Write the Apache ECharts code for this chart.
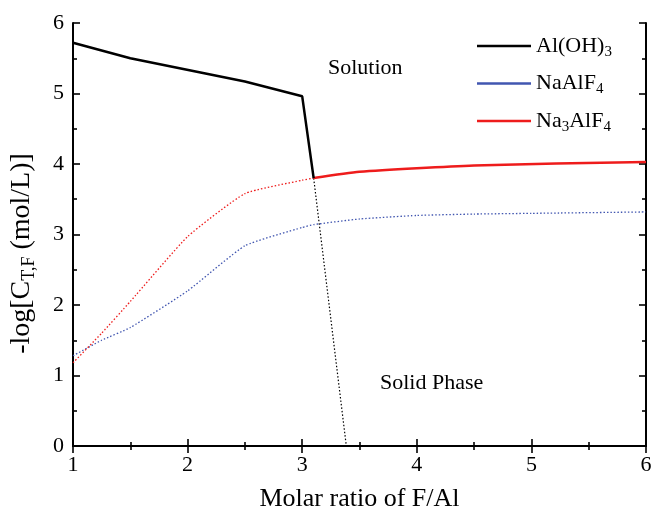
<!DOCTYPE html>
<html>
<head>
<meta charset="utf-8">
<script src="https://cdn.jsdelivr.net/npm/echarts@6/dist/echarts.min.js"></script>
<style>
  html, body { margin: 0; padding: 0; background: #fff; }
  #chart { width: 665px; height: 518px; }
</style>
</head>
<body>
<div id="chart"></div>
<script>
// Al(OH)3 boundary (solid) and its dotted continuation into the solid phase
var alohX = [1, 1.5, 2.5, 3, 3.1];
var alohY = [5.72, 5.5, 5.17, 4.96, 3.8];
var alohDotX = [3.1, 3.385];
var alohDotY = [3.8, 0];

// NaAlF4 (dotted only)
var naalX = [1, 1.25, 1.5, 2, 2.5, 3, 3.1, 3.5, 4, 4.5, 5, 6];
var naalY = [1.28, 1.5, 1.68, 2.2, 2.84, 3.1, 3.14, 3.22, 3.27, 3.29, 3.3, 3.32];

// Na3AlF4 dotted part and solid part
var na3DotX = [1, 1.25, 1.5, 2, 2.5, 3, 3.1];
var na3DotY = [1.18, 1.6, 2.05, 2.97, 3.58, 3.77, 3.8];
var na3X = [3.1, 3.5, 4.5, 6];
var na3Y = [3.8, 3.89, 3.98, 4.03];

var seriesNames = ['Al(OH)3', 'NaAlF4', 'Na3AlF4'];
var legendLabels = {
  'Al(OH)3': '{n|Al(OH)}{s|3}',
  'NaAlF4': '{n|NaAlF}{s|4}',
  'Na3AlF4': '{n|Na}{s|3}{n|AlF}{s|4}'
};

function pairs(xs, ys) {
  return xs.map(function (x, i) { return [x, ys[i]]; });
}

var FONT = '"Liberation Serif", "DejaVu Serif", serif';
var BLACK = '#000';
var BLUE = '#4156b0';
var RED = '#ee1c1c';

var chart = echarts.init(document.getElementById('chart'));

var tickInside = { show: true, inside: true, length: 7, lineStyle: { color: BLACK, width: 1.6 } };
var minorInside = { show: true, splitNumber: 2, length: 4, lineStyle: { color: BLACK, width: 1.6 } };

var option = {
  backgroundColor: '#fff',
  animation: false,
  grid: { left: 72, right: 19, top: 23, bottom: 72 },
  legend: {
    data: seriesNames,
    orient: 'vertical',
    left: 472,
    top: 30,
    icon: 'rect',
    itemWidth: 54,
    itemHeight: 2.5,
    itemGap: 13,
    formatter: function (n) { return legendLabels[n]; },
    textStyle: {
      fontFamily: FONT,
      color: BLACK,
      rich: {
        n: { fontFamily: FONT, fontSize: 22, color: BLACK, lineHeight: 24 },
        s: { fontFamily: FONT, fontSize: 15, color: BLACK, padding: [12, 0, 0, 0] }
      }
    }
  },
  xAxis: [{
    type: 'value',
    min: 1, max: 6, interval: 1,
    name: 'Molar ratio of F/Al',
    nameLocation: 'middle',
    nameGap: 40,
    nameTextStyle: { fontFamily: FONT, fontSize: 26, color: BLACK },
    axisLine: { lineStyle: { color: BLACK, width: 2 } },
    axisTick: tickInside,
    minorTick: minorInside,
    splitLine: { show: false },
    axisLabel: { fontFamily: FONT, fontSize: 22, color: BLACK, margin: 8 }
  }, {
    type: 'value',
    position: 'top',
    min: 1, max: 6, interval: 1,
    axisLine: { lineStyle: { color: BLACK, width: 2 } },
    axisTick: tickInside,
    minorTick: minorInside,
    splitLine: { show: false },
    axisLabel: { show: false }
  }],
  yAxis: [{
    type: 'value',
    min: 0, max: 6, interval: 1,
    name: '{n|-log[C}{s|T,F}{n| (mol/L)]}',
    nameLocation: 'middle',
    nameGap: 35,
    nameRotate: 90,
    nameTextStyle: {
      fontFamily: FONT, color: BLACK,
      padding: [0, 38, 0, 0],
      rich: {
        n: { fontFamily: FONT, fontSize: 28, color: BLACK, lineHeight: 30 },
        s: { fontFamily: FONT, fontSize: 18, color: BLACK, padding: [14, 0, 0, 0] }
      }
    },
    axisLine: { lineStyle: { color: BLACK, width: 2 } },
    axisTick: tickInside,
    minorTick: minorInside,
    splitLine: { show: false },
    axisLabel: { fontFamily: FONT, fontSize: 22, color: BLACK, margin: 9 }
  }, {
    type: 'value',
    position: 'right',
    min: 0, max: 6, interval: 1,
    axisLine: { lineStyle: { color: BLACK, width: 2 } },
    axisTick: tickInside,
    minorTick: minorInside,
    splitLine: { show: false },
    axisLabel: { show: false }
  }],
  graphic: [
    { type: 'text', left: 328, top: 57, style: { text: 'Solution', font: '22px ' + FONT, fill: BLACK } },
    { type: 'text', left: 380, top: 372, style: { text: 'Solid Phase', font: '22px ' + FONT, fill: BLACK } }
  ],
  series: [
    {
      name: 'Al(OH)3', type: 'line', data: pairs(alohX, alohY),
      showSymbol: false, color: BLACK,
      lineStyle: { color: BLACK, width: 2.5 }, z: 5
    },
    {
      name: 'Al(OH)3 extension', type: 'line', data: pairs(alohDotX, alohDotY),
      showSymbol: false, color: BLACK,
      lineStyle: { color: BLACK, width: 1.2, type: [1.5, 2] }
    },
    {
      name: 'NaAlF4', type: 'line', data: pairs(naalX, naalY),
      showSymbol: false, smooth: 0.15, color: BLUE,
      lineStyle: { color: BLUE, width: 1.3, type: [1.5, 2] }
    },
    {
      name: 'Na3AlF4', type: 'line', data: pairs(na3X, na3Y),
      showSymbol: false, smooth: 0.2, color: RED,
      lineStyle: { color: RED, width: 2.5 }, z: 4
    },
    {
      name: 'Na3AlF4 dotted', type: 'line', data: pairs(na3DotX, na3DotY),
      showSymbol: false, smooth: 0.15, color: RED,
      lineStyle: { color: RED, width: 1.3, type: [1.5, 2] }
    }
  ]
};

chart.setOption(option);
</script>
</body>
</html>
